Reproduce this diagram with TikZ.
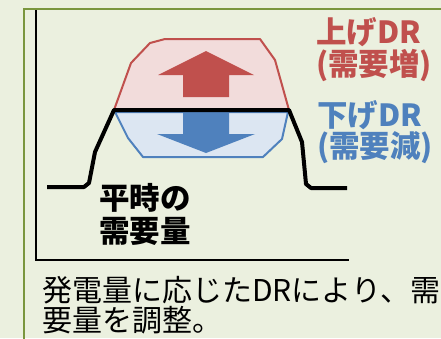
\documentclass[tikz,border=0pt]{standalone}
\usepackage{fontspec}
\newfontfamily\jpfont{Noto Sans CJK JP}
\definecolor{bgc}{RGB}{235,240,223}
\definecolor{frm}{RGB}{122,150,62}
\definecolor{redc}{RGB}{192,80,77}
\definecolor{pinkf}{RGB}{242,220,219}
\definecolor{bluec}{RGB}{79,129,189}
\definecolor{bluef}{RGB}{220,230,242}
\tikzset{
  lbl/.style={anchor=west,inner sep=0pt,font=\jpfont\bfseries\fontsize{30.5}{32}\selectfont},
  body/.style={anchor=west,inner sep=0pt,font=\jpfont\fontsize{30}{32}\selectfont},
  region/.style={line width=2pt,line join=round},
}
\begin{document}
\begin{tikzpicture}[x=1pt,y=-1pt]
\fill[bgc] (0,0) rectangle (441,338);
\useasboundingbox (0,0) rectangle (441,338);
\draw[frm,line width=2pt] (24,350) -- (24,9) -- (450,9);
% axes
\draw[black,line width=2.5pt] (36,10) -- (36,260) -- (349,260);
% regions
\draw[region,redc,fill=pinkf] (114,110) -- (131,63) -- (150,43) -- (165,39) -- (260,39) -- (275,60) -- (289,110) -- cycle;
\draw[region,bluec,fill=bluef] (115,112) -- (128,138) -- (143,157) -- (263,157) -- (282,139) -- (288,112) -- cycle;
% arrows
\fill[redc] (206,51) -- (254,75) -- (229,75) -- (229,97) -- (183,97) -- (183,75) -- (158,75) -- cycle;
\fill[bluec] (206,153) -- (255,134) -- (229,134) -- (229,113) -- (183,113) -- (183,134) -- (157,134) -- cycle;
% baseline
\draw[black,line width=4pt,line join=round] (47,187) -- (84,187) -- (89,183) -- (95,152) -- (114,110) -- (289,110) -- (302,142) -- (306,184) -- (311,188) -- (347,188);
% labels
\node[lbl,text=redc] (u1) at (316,32.5) {上げDR};
\node[lbl,text=redc] (u2) at (316,66) {(需要増)};
\node[lbl,text=bluec] (d1) at (317,115.5) {下げDR};
\node[lbl,text=bluec] (d2) at (317,147.5) {(需要減)};
\node[lbl,text=black] (n1) at (99,197.5) {平時の};
\node[lbl,text=black] (n2) at (99,231) {需要量};
\node[body] (b1) at (42,290) {発電量に応じたDRにより、需};
\node[body] (b2) at (42,320) {要量を調整。};
\end{tikzpicture}
\end{document}
